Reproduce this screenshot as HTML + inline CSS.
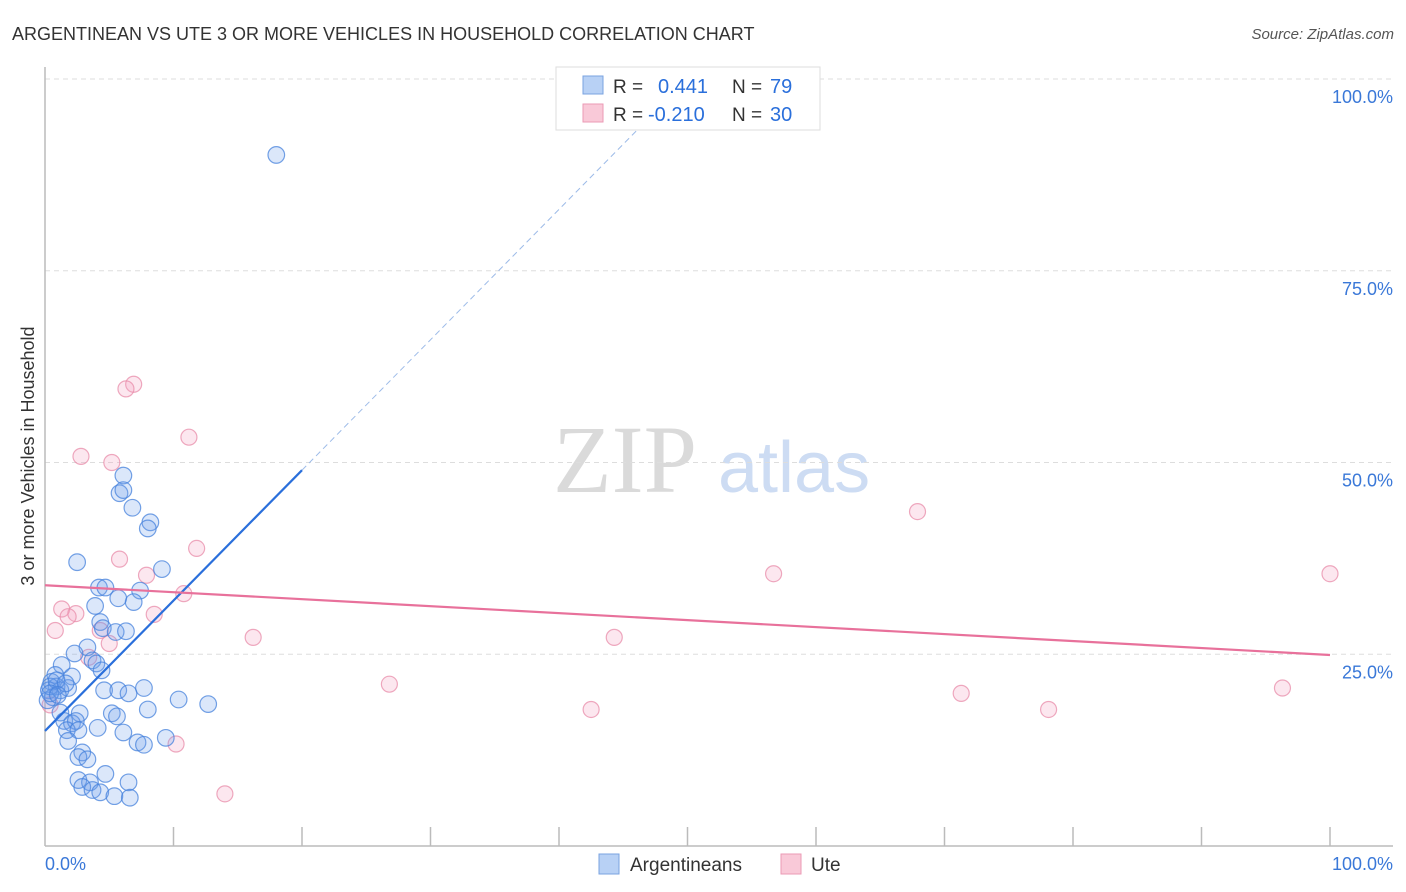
<!DOCTYPE html>
<html><head><meta charset="utf-8"><style>
body{margin:0;background:#fff;width:1406px;height:892px;overflow:hidden;font-family:"Liberation Sans",sans-serif}
svg{position:absolute;left:0;top:0}
</style></head><body>
<svg id="c" width="1406" height="892">
<text x="12" y="40" font-size="18" fill="#333">ARGENTINEAN VS UTE 3 OR MORE VEHICLES IN HOUSEHOLD CORRELATION CHART</text>
<text x="1394" y="39" font-size="15" fill="#555" font-style="italic" text-anchor="end">Source: ZipAtlas.com</text>
<text x="34" y="456" font-size="18" fill="#333" text-anchor="middle" transform="rotate(-90 34 456)">3 or more Vehicles in Household</text>
<g><text x="553" y="492" font-family="Liberation Serif,serif" font-size="96" fill="#dadada">ZIP</text><text x="718" y="492" font-size="72" fill="#cddcf3">atlas</text></g>
<g id="grid"></g><g id="axes"></g><g id="marks"></g>
<g>
<rect x="556" y="67" width="264" height="63" fill="#fff" stroke="#ddd"/>
<rect x="583" y="76" width="20" height="18" fill="#b8d1f5" stroke="#7aa3e0"/>
<rect x="583" y="104" width="20" height="18" fill="#f9c9d8" stroke="#eb9ab5"/>
<text x="613" y="93" font-size="19" fill="#333">R =</text><text x="658" y="93" font-size="20" fill="#2a6fdb">0.441</text>
<text x="732" y="93" font-size="19" fill="#333">N =</text><text x="770" y="93" font-size="20" fill="#2a6fdb">79</text>
<text x="613" y="121" font-size="19" fill="#333">R =</text><text x="648" y="121" font-size="20" fill="#2a6fdb">-0.210</text>
<text x="732" y="121" font-size="19" fill="#333">N =</text><text x="770" y="121" font-size="20" fill="#2a6fdb">30</text>
</g>
<g>
<rect x="599" y="854" width="20" height="20" fill="#b8d1f5" stroke="#7aa3e0"/>
<text x="630" y="871" font-size="19" fill="#333">Argentineans</text>
<rect x="781" y="854" width="20" height="20" fill="#f9c9d8" stroke="#eb9ab5"/>
<text x="811" y="871" font-size="19" fill="#333">Ute</text>
</g>
</svg>
<script>
const yTicks=[25,50,75,100];
const yTickLabels=["25.0%","50.0%","75.0%","100.0%"];
const blueX=[18.0,6.1,5.8,6.1,6.8,8.2,8.0,2.5,9.1,4.2,4.7,7.4,5.7,6.9,3.9,4.3,4.5,5.5,6.3,3.3,2.3,3.7,4.0,4.4,1.3,0.8,2.1,0.5,0.9,0.3,1.2,1.8,0.6,0.2,4.6,5.7,6.5,7.7,10.4,12.7,1.2,2.7,5.2,5.6,8.0,1.5,2.1,2.4,1.7,2.6,4.1,6.1,1.8,7.2,7.7,9.4,2.9,2.6,3.3,4.7,2.6,3.5,6.5,2.9,3.7,4.3,5.4,6.6,0.4,0.9,1.6,0.4,1.0];
const blueY=[90.1,48.3,46.0,46.4,44.1,42.2,41.4,37.0,36.1,33.7,33.7,33.3,32.3,31.8,31.3,29.2,28.4,27.9,28.0,25.9,25.1,24.2,23.8,22.9,23.6,22.3,22.1,21.4,20.8,20.3,20.3,20.6,19.4,19.0,20.3,20.3,19.9,20.6,19.1,18.5,17.4,17.3,17.3,16.9,17.8,16.3,16.0,16.3,15.1,15.1,15.4,14.8,13.7,13.5,13.2,14.1,12.2,11.6,11.3,9.4,8.6,8.3,8.3,7.7,7.3,7.0,6.5,6.3,20.8,21.6,21.2,19.9,19.7];
const pinkX=[6.9,6.3,11.2,2.8,5.2,11.8,5.8,7.9,10.8,1.3,2.4,1.8,8.5,0.8,4.3,5.0,3.4,16.2,44.3,67.9,56.7,100,26.8,42.5,71.3,78.1,96.3,10.2,14.0,0.4];
const pinkY=[60.2,59.6,53.3,50.8,50.0,38.8,37.4,35.3,32.9,30.9,30.3,29.9,30.2,28.1,28.1,26.4,24.6,27.2,27.2,43.6,35.5,35.5,21.1,17.8,19.9,17.8,20.6,13.3,6.8,18.4];
const blueTrend=[15.0,49.0];
const pinkTrend=[34.0,24.9];
const X0=45,X1=1330,Y0=846,Y1=79;
const sx=v=>X0+(X1-X0)*v/100, sy=v=>Y0-(Y0-Y1)*v/100;
const NS="http://www.w3.org/2000/svg";
function mk(t,a,p){const e=document.createElementNS(NS,t);for(const k in a)e.setAttribute(k,a[k]);p.appendChild(e);return e;}
const grid=document.getElementById('grid'),axes=document.getElementById('axes'),marks=document.getElementById('marks');
yTicks.forEach((t,i)=>{
 const l=mk('line',{x1:X0,x2:1393,y1:sy(t),y2:sy(t),stroke:'#ddd','stroke-dasharray':'5,4'},grid);
 
 
 const tx=mk('text',{x:1393,y:sy(t)+24,'font-size':18,fill:'#3a78d8','text-anchor':'end'},axes);tx.textContent=yTickLabels[i];
 
 
});
let a=mk('line',{x1:X0,x2:X0,y1:67,y2:846,stroke:'#bbb','stroke-width':1.5},axes);


a=mk('line',{x1:X0,x2:1393,y1:846,y2:846,stroke:'#bbb','stroke-width':1.5},axes);


for(let k=1;k<=10;k++){const tk=mk('line',{x1:sx(k*10),x2:sx(k*10),y1:827,y2:846,stroke:'#bbb','stroke-width':1.5},axes);
 
 }
let t=mk('text',{x:45,y:870,'font-size':18,fill:'#3a78d8'},axes);t.textContent='0.0%';


t=mk('text',{x:1393,y:870,'font-size':18,fill:'#3a78d8','text-anchor':'end'},axes);t.textContent='100.0%';


pinkX.forEach((x,i)=>{const c=mk('circle',{cx:sx(x),cy:sy(pinkY[i]),r:8,fill:'rgba(244,160,190,0.25)',stroke:'rgba(232,140,170,0.75)','stroke-width':1.2},marks);
 
 });
blueX.forEach((x,i)=>{const c=mk('circle',{cx:sx(x),cy:sy(blueY[i]),r:8.3,fill:'rgba(110,160,235,0.25)',stroke:'rgba(70,130,220,0.75)','stroke-width':1.2},marks);
 
 });
const bs=(blueTrend[1]-blueTrend[0])/20;
let ln=mk('line',{x1:sx(20),y1:sy(blueTrend[1]),x2:sx(47),y2:sy(blueTrend[0]+bs*47),stroke:'#9dbbe8','stroke-width':1,'stroke-dasharray':'6,4'},marks);


ln=mk('line',{x1:sx(0),y1:sy(blueTrend[0]),x2:sx(20),y2:sy(blueTrend[1]),stroke:'#2a6fdb','stroke-width':2.2},marks);


ln=mk('line',{x1:sx(0),y1:sy(pinkTrend[0]),x2:sx(100),y2:sy(pinkTrend[1]),stroke:'#e8719b','stroke-width':2.2},marks);


</script>
</body></html>
